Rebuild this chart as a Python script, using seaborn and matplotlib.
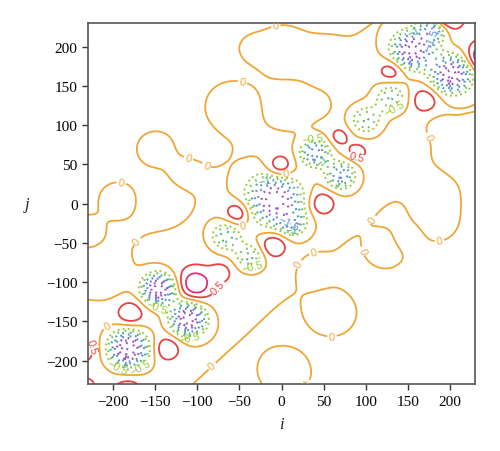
import numpy as np
import matplotlib
matplotlib.use("Agg")
import matplotlib.pyplot as plt
import seaborn as sns

# features: centre (i, j), height, width
# wells along the diagonal band (dotted rings)
well_i = [155, 202, 180, 130, 100, 40, 70, -8, 14, -66, -38, -146, -111, -182]
well_j = [195, 165, 222, 135, 106, 65, 36, 5, -26, -42, -68, -109, -147, -185]
well_amp = [-2.6, -2.6, -1.8, -1.3, -1.3, -1.9, -1.8, -2.5, -1.0, -1.4, -1.3, -2.7, -2.7, -2.8]
well_w = [17, 17, 12, 14, 14, 13, 13, 24, 12, 14, 12, 14, 15, 17]

# bumps (red rings)
bump_i = [-103, -72, -180, -136, -182, -238, -232, -52, -9, 48, -2, 69, 90, 131, 171, 195, 240]
bump_j = [-103, -88, -140, -185, -240, -186, -232, -12, -53, 0, 47, 85, 66, 169, 132, 240, 186]
bump_amp = [1.2, 0.5, 0.8, 0.8, 0.8, 0.8, 0.6, 0.95, 0.9, 0.85, 1.0, 0.55, 0.55, 0.75, 0.75, 1.6, 1.6]
bump_w = [14, 9, 11, 11, 12, 11, 7, 11, 11, 11, 11, 8, 8, 11, 11, 13, 13]

# broad ridge along the band
ridge_i = [-250, -190, -130, -70, -10, 50, 110, 170, 230]
ridge_j = [-250, -190, -130, -70, -10, 50, 110, 170, 230]
ridge_amp = [0.25, 0.25, 0.25, 0.25, 0.25, 0.25, 0.25, 0.25, 0.25]
ridge_w = [60, 60, 60, 60, 60, 60, 60, 60, 60]

# lobes and dents that bend the zero lines
lobe_i = [-195, -232, -205, -135, -150, -115, -105, -60, 15, 45, 0, 50, -35,
          185, 185, 125, 60, 5, 40, 215, 185, 150]
lobe_j = [5, -35, -95, 0, 70, 35, 82, 125, 120, 124, 195, 185, 198,
          10, -25, -60, -140, -215, -85, 75, 100, -45]
lobe_amp = [0.35, 0.3, -0.4, -0.35, 0.3, 0.3, -0.2, 0.35, -0.4, -0.3, 0.4, 0.3, 0.25,
            0.25, 0.3, 0.35, 0.4, 0.45, -0.35, -0.4, -0.25, -0.35]
lobe_w = [16, 15, 18, 18, 18, 14, 10, 22, 18, 12, 22, 18, 12,
          22, 18, 16, 20, 20, 12, 18, 12, 10]

base_level = -0.15

# where the contour labels sit in the reference
zero_lab_i = [-6, -50, -109, -93, -189, -179, -214, -45, 7, 41, 37, 103, 101, 187, 60, 12, -85, 150]
zero_lab_j = [222, 138, 64, 40, 36, -41, -145, -29, 27, -74, -87, -17, -59, -42, -169, -219, -204, 75]
half_lab_i = [90, -85, -200]
half_lab_j = [62, -99, -175]
neg_lab_i = [157, 36, 140, -20, -34, -150, -109, -168, 54, 12, -194, 175, 9]
neg_lab_j = [219, 90, 109, 29, -85, -137, -173, -208, 49, -32, -208, 213, -22]

# labelled negative levels and the unlabelled ones in between
main_neg_levels = [-1.5, -1.0, -0.5]
main_neg_colors = ["#5a8fd8", "#4cb080", "#9acd32"]
inner_neg_levels = [-2.5, -2.25, -2.0, -1.75, -1.25, -0.75]
inner_neg_colors = ["#9a4fc0", "#9a4fc0", "#9a4fc0", "#9a4fc0", "#5a8fd8", "#7cc46a"]
zero_color = "#f0a637"
half_color = "#e8423f"
high_levels = [1.0, 1.5]
high_colors = ["#e0307a", "#c0206a"]

sns.set_theme(style="ticks")
plt.rcParams["font.family"] = ["Liberation Serif", "DejaVu Serif"]

i_grid = np.linspace(-230, 230, 400)
j_grid = np.linspace(-230, 230, 400)
I, J = np.meshgrid(i_grid, j_grid)
Z = np.full_like(I, base_level)
for xs, ys, amps, ws in [(well_i, well_j, well_amp, well_w),
                         (bump_i, bump_j, bump_amp, bump_w),
                         (ridge_i, ridge_j, ridge_amp, ridge_w),
                         (lobe_i, lobe_j, lobe_amp, lobe_w)]:
    for x0, y0, a, w in zip(xs, ys, amps, ws):
        Z += a * np.exp(-((I - x0) ** 2 + (J - y0) ** 2) / (2 * w ** 2))

fig = plt.figure(figsize=(5, 4.52), dpi=100)
ax = fig.add_axes([0.176, 0.148, 0.774, 0.799])

dots = (0, (0.8, 2.6))
ax.contour(I, J, Z, levels=inner_neg_levels, colors=inner_neg_colors,
           linewidths=1.6, linestyles=[dots])
cn = ax.contour(I, J, Z, levels=main_neg_levels, colors=main_neg_colors,
                linewidths=[1.6, 1.6, 1.4], linestyles=[dots, dots, (0, (1, 1.6))])
c0 = ax.contour(I, J, Z, levels=[0], colors=[zero_color], linewidths=1.3)
c5 = ax.contour(I, J, Z, levels=[0.5], colors=[half_color], linewidths=1.3)
ax.contour(I, J, Z, levels=high_levels, colors=high_colors, linewidths=1.3)

lab = dict(fontsize=8, inline=True, inline_spacing=2)
texts = []
texts += c0.clabel(fmt={0: "0"}, manual=list(zip(zero_lab_i, zero_lab_j)), **lab)
texts += c5.clabel(fmt={0.5: "0.5"}, manual=list(zip(half_lab_i, half_lab_j)), **lab)
texts += cn.clabel(fmt={-1.5: "\u22121.5", -1.0: "\u22121", -0.5: "\u22120.5"},
                   manual=list(zip(neg_lab_i, neg_lab_j)), **lab)
for t in texts:
    t.set_fontfamily("Liberation Sans")

ax.set_xlim(-230, 230)
ax.set_ylim(-230, 230)
ax.set_xticks(range(-200, 201, 50))
ax.set_yticks(range(-200, 201, 50))
ax.tick_params(direction="out", length=4, width=1, labelsize=11, colors="#333333", labelcolor="black")
for s in ax.spines.values():
    s.set_color("#555555")
    s.set_linewidth(1.2)
ax.set_xlabel("i", fontstyle="italic", fontsize=12, labelpad=6)
ax.set_ylabel("j", fontstyle="italic", fontsize=12, rotation=0, labelpad=14, va="center")

fig.savefig("out.png", dpi=100)
